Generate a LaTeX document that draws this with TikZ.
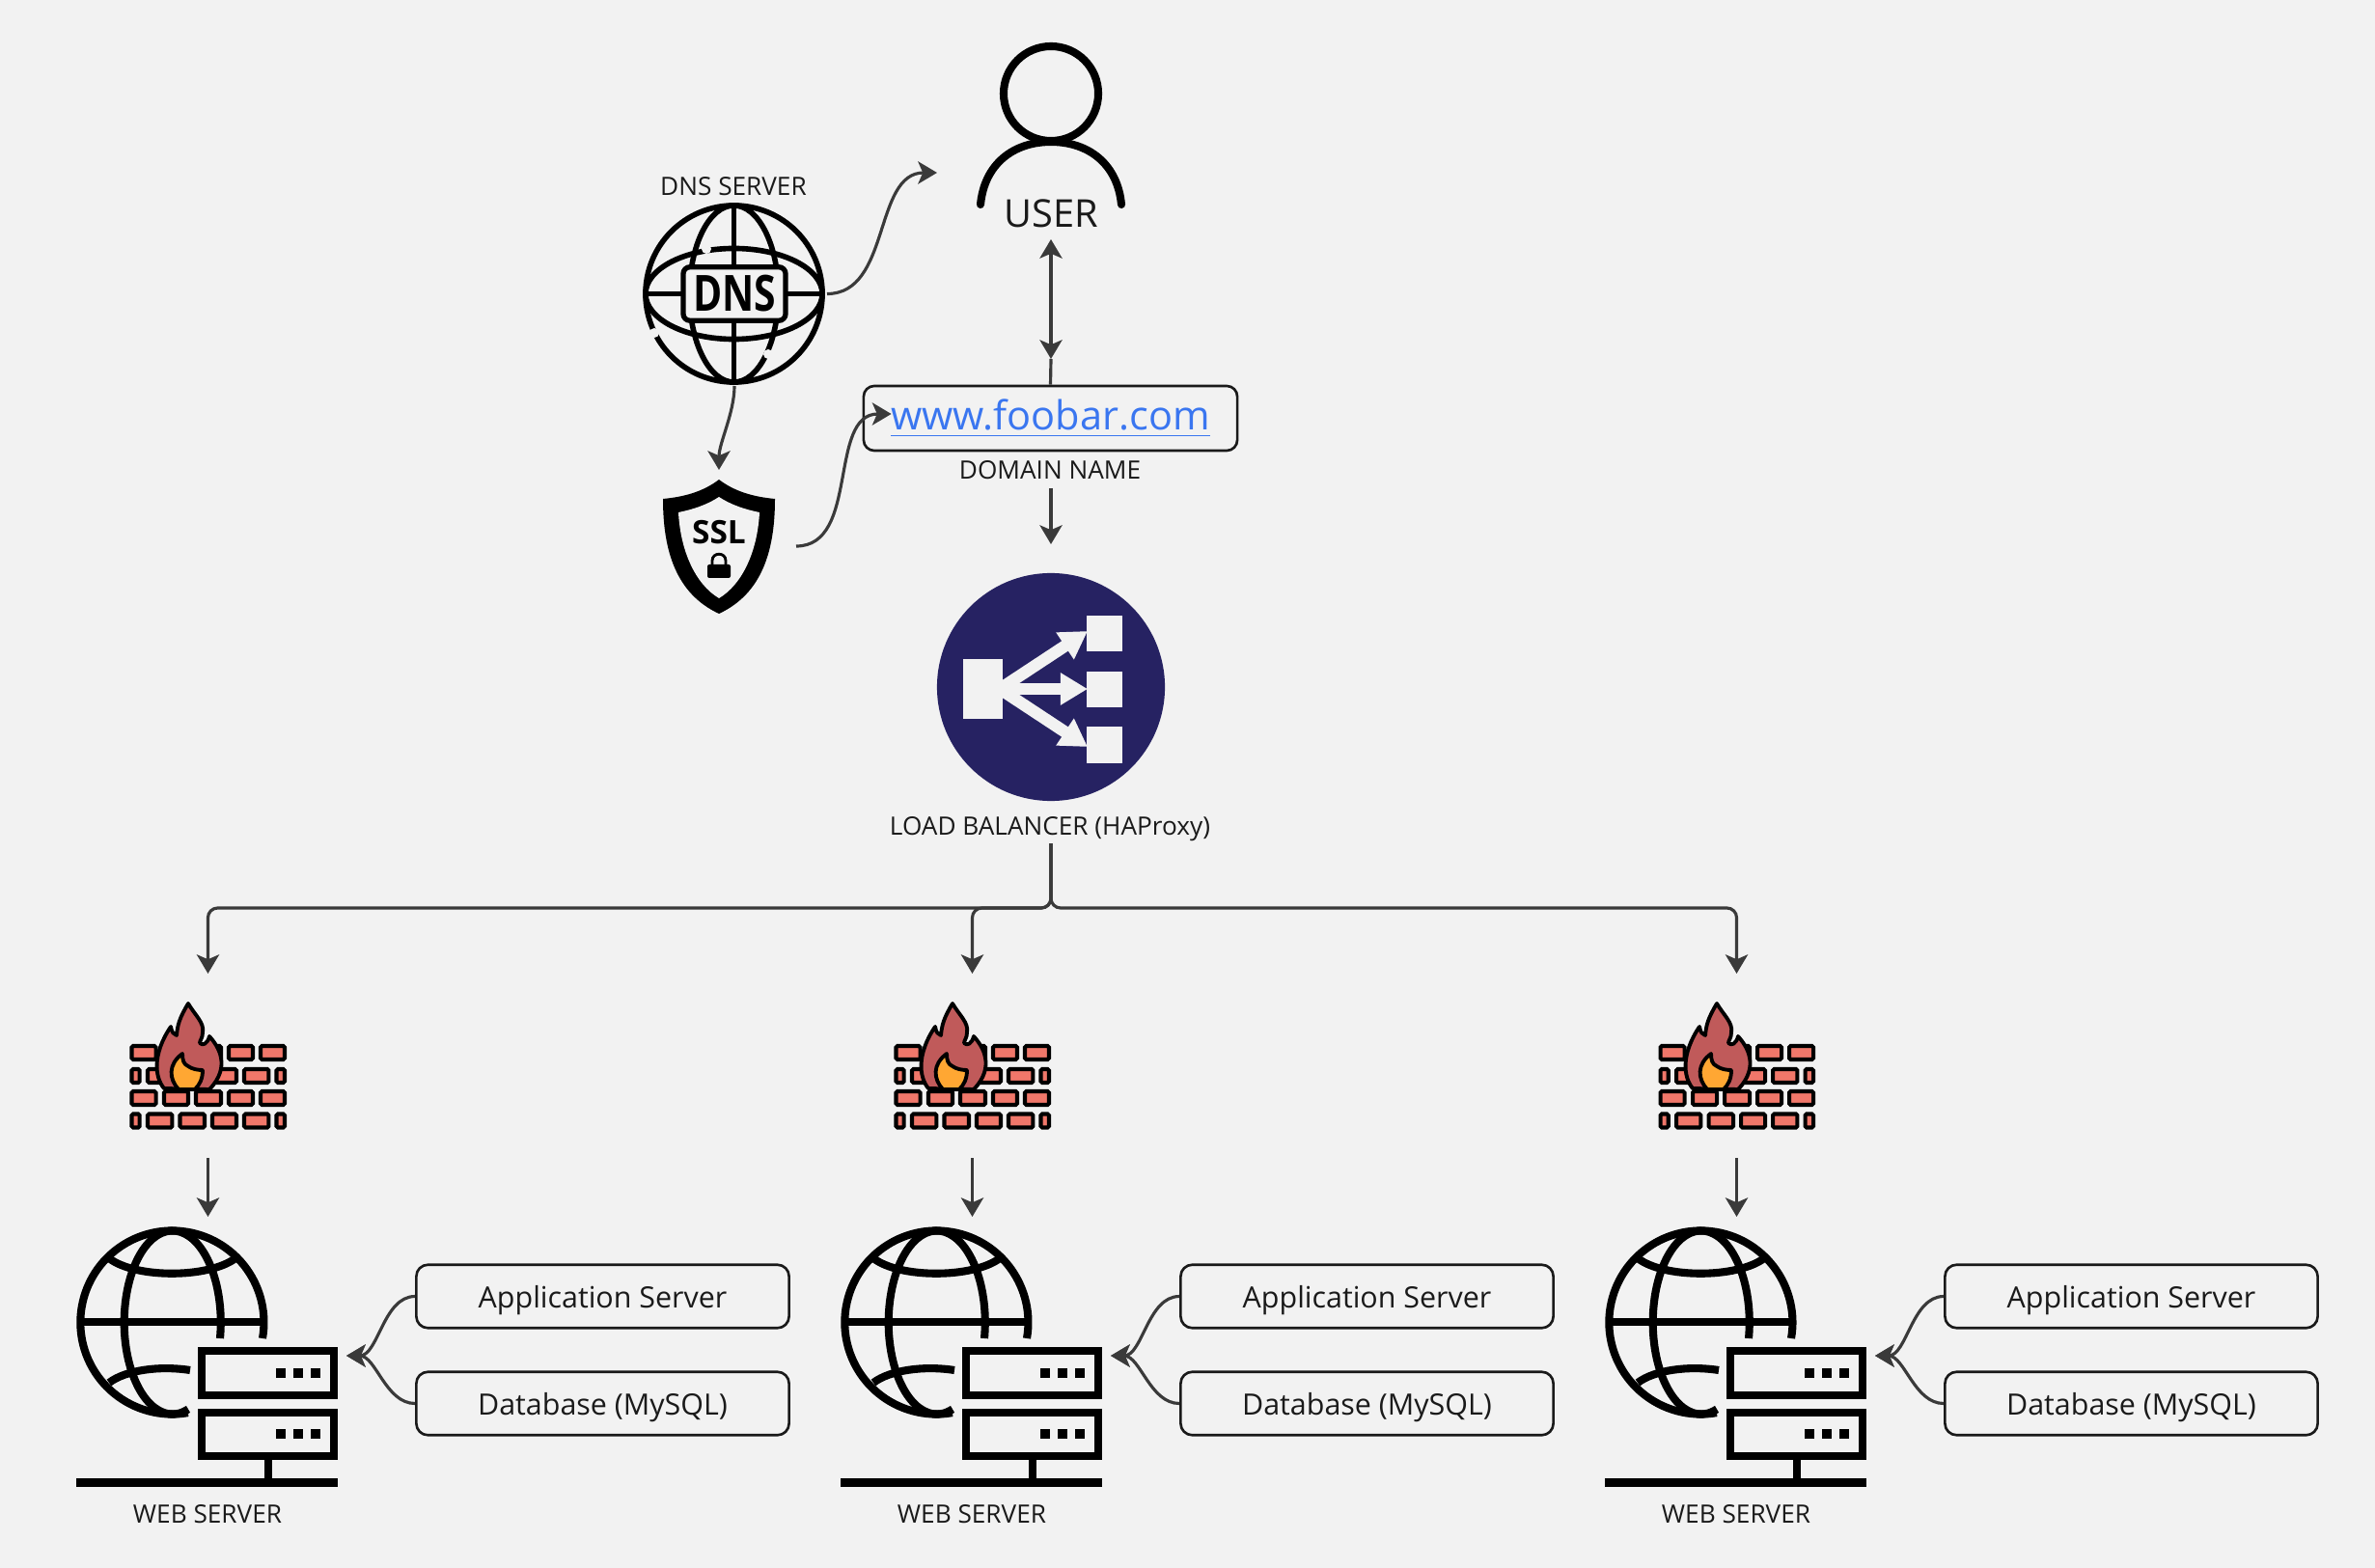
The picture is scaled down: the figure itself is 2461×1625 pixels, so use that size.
\documentclass[tikz,border=0pt]{standalone}
\usepackage{fontspec}
\setmainfont{Open Sans}
\usetikzlibrary{arrows.meta}
\definecolor{bgc}{HTML}{F2F2F2}
\definecolor{linec}{HTML}{3A3A3A}
\definecolor{textc}{HTML}{1A1A1A}
\definecolor{navy}{HTML}{262262}
\definecolor{linkc}{HTML}{3A76F0}
\definecolor{brick}{HTML}{F0776A}
\definecolor{flameout}{HTML}{C05A5A}
\definecolor{flamein}{HTML}{FFA733}
\tikzset{
  conn/.style={linec,line width=.9pt,>={Stealth[length=5.6pt,width=6.6pt,inset=1.4pt]},->},
  lbl/.style={textc,inner sep=0pt,text depth=0pt,font=\fontsize{7.45}{10}\selectfont},
  box/.style={draw=textc,fill=bgc,line width=.75pt,rounded corners=.12cm,inner sep=0pt,text=textc,text depth=0pt,
    minimum width=3.86cm,minimum height=.655cm,font=\fontsize{8.65}{12}\selectfont},
  ink/.style={line width=2.3pt},
  lbarrow/.style={bgc,line width=3.5pt,-{Triangle[length=8pt,width=9pt]}},
  bricknode/.style={draw=black,fill=brick,line width=1.15pt,rounded corners=.015cm},
}
\begin{document}
\begin{tikzpicture}[x=.01cm,y=-.01cm]
\useasboundingbox[fill=bgc] (0,0) rectangle (2461,1625);

% user
\draw[line width=2.3pt] (1089,97) circle[radius=.49cm];
\draw[line width=2.3pt,line cap=round] (1016,212) .. controls (1020,170) and (1050,147) .. (1089,147) .. controls (1128,147) and (1158,170) .. (1162,212);
\node[lbl,font=\fontsize{11.3}{14}\selectfont] (user) at (1089,221) {USER};
\coordinate (userleft) at (971,179);
\coordinate (userbot) at (1089,248);

% dns server
\node[lbl] (dnslabel) at (760,193) {DNS SERVER};
\draw[line width=1.6pt] (760.5,304.5) circle[radius=.915cm];
\draw[line width=1.6pt] (760.5,304.5) ellipse[x radius=.46cm,y radius=.915cm];
\draw[line width=1.6pt] (760.5,304.5) ellipse[x radius=.915cm,y radius=.47cm];
\draw[line width=1.6pt] (760.5,213) -- (760.5,396) (670,304.5) -- (851,304.5);
\fill[bgc] (732,258) circle[radius=.05cm] (678,345) circle[radius=.05cm] (796,367) circle[radius=.05cm];
\node[draw=black,fill=bgc,line width=1.5pt,rounded corners=.07cm,minimum width=1.06cm,minimum height=.555cm,inner sep=0pt] (dnsbox) at (761,304.5) {};
\node[inner sep=0pt,font=\fontsize{14.7}{16}\bfseries\selectfont,xscale=.79,transform shape] (dnstext) at (761,304.5) {DNS};
\coordinate (dnsright) at (857,304.5);
\coordinate (dnsbot) at (761,400);

% ssl shield
\fill (745,497) .. controls (728,510) and (708,515) .. (687,517) .. controls (687,570) and (700,615) .. (745,636) .. controls (790,615) and (803,570) .. (803,517) .. controls (782,515) and (762,510) .. (745,497) -- cycle;
\fill[bgc] (745,515) .. controls (733,523) and (718,528) .. (703,531) .. controls (705,570) and (720,605) .. (745,620) .. controls (770,605) and (785,570) .. (787,531) .. controls (772,528) and (757,523) .. (745,515) -- cycle;
\node[inner sep=0pt,font=\fontsize{9.5}{11}\bfseries\selectfont] (ssltext) at (745,552) {SSL};
\fill[rounded corners=.02cm] (733,585) rectangle (757,599);
\draw[line width=.8pt] (738,586) -- (738,581) .. controls (738,572) and (752,572) .. (752,581) -- (752,586);
\coordinate (sslin) at (745,487);
\coordinate (sslright) at (825,566);

% domain name
\node[box,minimum width=3.87cm,minimum height=.67cm,rounded corners=.11cm] (domain) at (1088.5,433.5) {};
\node[inner sep=0pt,text depth=0pt,text=linkc,font=\fontsize{11.8}{16}\selectfont] (url) at (1088.5,430) {\underline{www.foobar.com}};
\node[lbl] (domainlabel) at (1088,487) {DOMAIN NAME};
\coordinate (domainin) at (923.6,429);
\coordinate (usermid) at (1089,372);
\coordinate (domainout) at (1089,506);
\coordinate (lbin) at (1089,564);

% load balancer
\fill[navy] (1089,712) circle[radius=1.18cm];
\fill[bgc] (998,683) rectangle (1039,745);
\fill[bgc] (1126,638) rectangle (1163,675);
\fill[bgc] (1126,696) rectangle (1163,733);
\fill[bgc] (1126,753) rectangle (1163,791);
\draw[lbarrow] (1036,714) -- (1127,654);
\draw[lbarrow] (1036,714) -- (1127,714);
\draw[lbarrow] (1036,714) -- (1127,774);
\node[lbl] (lblabel) at (1088,856) {LOAD BALANCER (HAProxy)};
\coordinate (lbout) at (1089,874);
\coordinate (hub) at (1089,941);

% connectors up top
\draw[conn] (dnsright) to[out=0,in=180,looseness=1] (userleft);
\draw[conn,<->] (userbot) -- (usermid);
\draw[conn,-] (usermid) -- (domain.north);
\draw[conn] (dnsbot) to[out=-90,in=90,looseness=.8] (sslin);
\draw[conn] (sslright) to[out=0,in=180,looseness=1] (domainin);
\draw[conn] (domainout) -- (lbin);

% three server columns
\foreach \cx/\n in {0/a,792/b,1584/c}{
\begin{scope}[shift={(\cx,0)}]
  \coordinate (fwin\n) at (215.5,1009);
  \draw[conn,rounded corners=.1cm] (lbout) -- (hub) -| (fwin\n);

  % firewall
  \foreach \ya in {1082,1129}
    \foreach \xa/\xb in {134.5/163.6,168/197,201/231,235/264,268/297}
      \draw[bricknode] (\xa+2,\ya+2) rectangle (\xb-2,\ya+16);
  \foreach \ya in {1106,1152.5}
    \foreach \xa/\xb in {134.5/146.7,151/180.4,184.5/214,218/247,251/280.4,284.5/297}
      \draw[bricknode] (\xa+2,\ya+2) rectangle (\xb-2,\ya+16);
  \draw[fill=flameout,line width=1.1pt,line join=round] (170,1128) .. controls (160,1116) and (158,1092) .. (177,1064) .. controls (178,1070) and (180,1072) .. (183,1073) .. controls (184,1062) and (186,1055) .. (195,1040) .. controls (202,1052) and (212,1060) .. (210,1070) .. controls (210,1076) and (207,1078) .. (207,1081) .. controls (210,1084) and (215,1082) .. (217,1074) .. controls (226,1084) and (240,1105) .. (217,1129) -- cycle;
  \draw[fill=flamein,line width=1.1pt,line join=round] (185,1129) .. controls (175,1118) and (174,1103) .. (189,1092) .. controls (189,1098) and (190,1103) .. (195,1105) .. controls (199,1108) and (205,1109) .. (210,1109) .. controls (210,1118) and (207,1124) .. (202,1129) -- cycle;
  \coordinate (fwout\n) at (215.5,1200);
  \coordinate (webin\n) at (215.5,1261);
  \draw[conn] (fwout\n) -- (webin\n);

  % web server
  \draw[ink] (272,1387) arc[start angle=-10,end angle=280,radius=.95cm];
  \draw[ink] (228,1387) arc[start angle=-10,end angle=289,x radius=.5cm,y radius=.95cm];
  \draw[ink] (85,1370) -- (272,1370);
  \draw[ink] (113,1304) .. controls (140,1325) and (216,1325) .. (244,1304);
  \draw[ink] (113,1433) .. controls (130,1420) and (165,1415) .. (197,1420);
  \draw[ink,fill=bgc] (209,1400) rectangle (346,1446);
  \draw[ink,fill=bgc] (209,1464) rectangle (346,1509);
  \foreach \ya in {1423,1486}
    \foreach \xa in {291,309,327}
      \fill (\xa-5,\ya-5) rectangle (\xa+5,\ya+5);
  \fill (274,1513) rectangle (282,1532);
  \fill (79,1532) rectangle (350,1541);
  \node[lbl] (weblabel\n) at (215,1569) {WEB SERVER};
  \coordinate (webside\n) at (359,1405);

  % side boxes
  \node[box] (app\n) at (624.5,1343.5) {Application Server};
  \node[box] (db\n) at (624.5,1454.5) {Database (MySQL)};
  \draw[conn] (app\n.west) to[out=180,in=0,looseness=.9] (webside\n);
  \draw[conn] (db\n.west) to[out=180,in=0,looseness=.9] (webside\n);
\end{scope}
}
\end{tikzpicture}
\end{document}
